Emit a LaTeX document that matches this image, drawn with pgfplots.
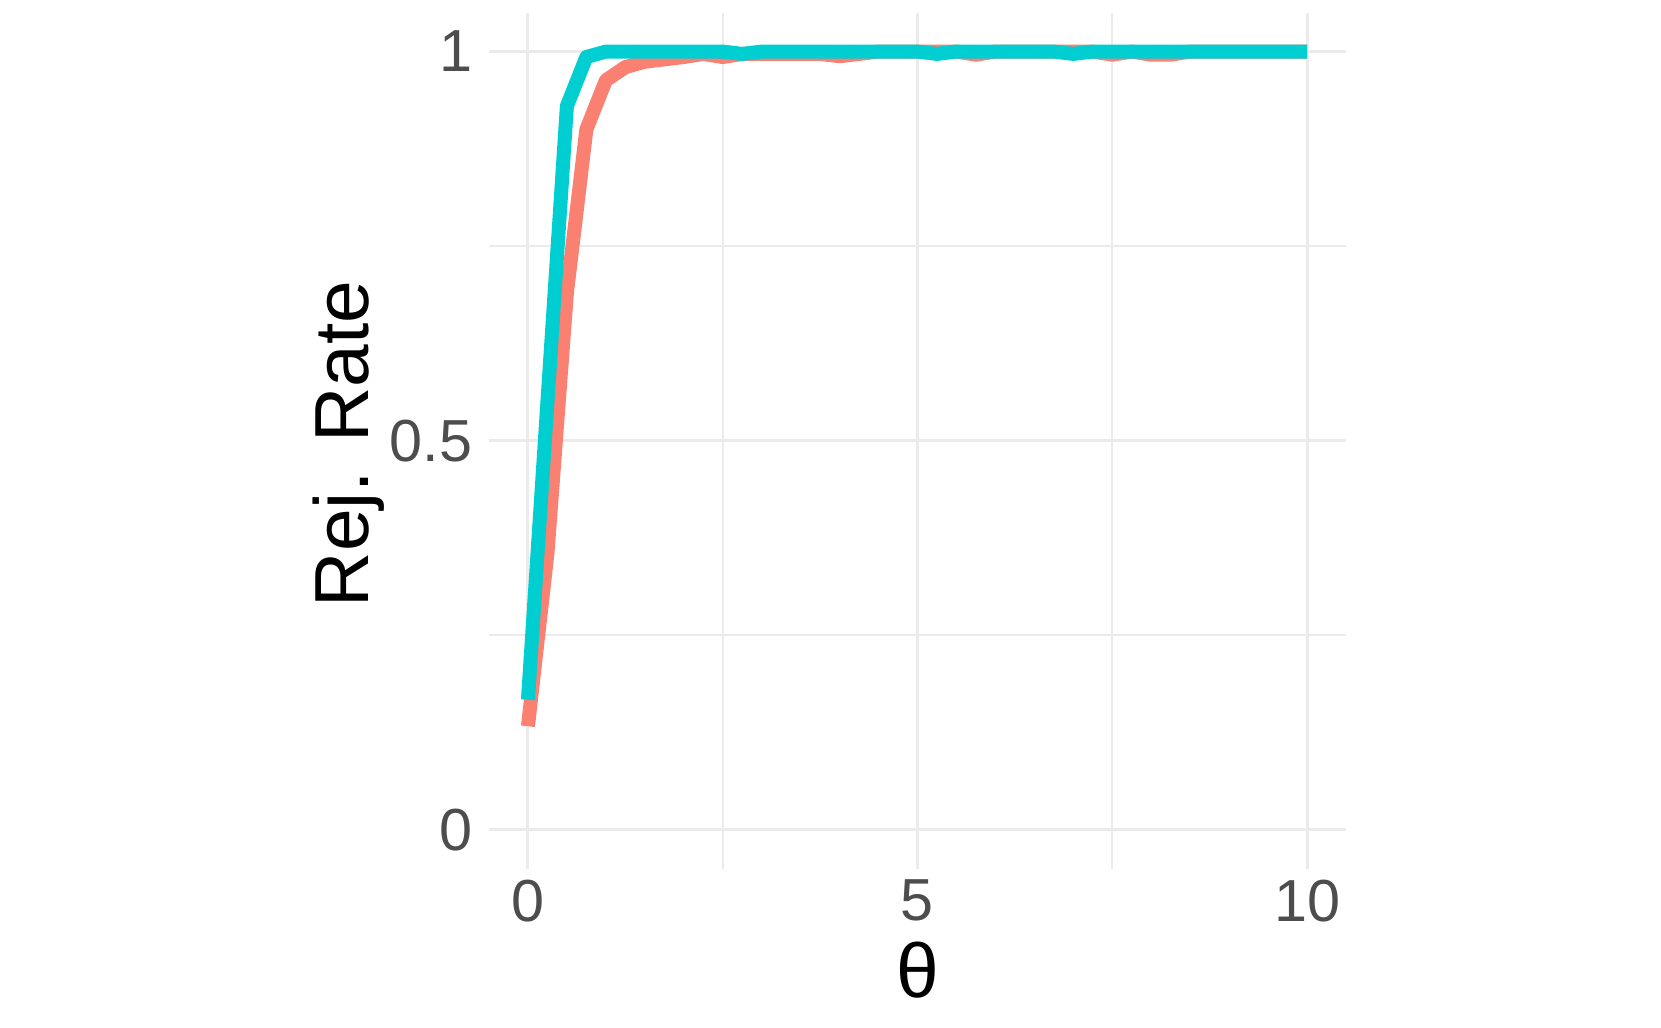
\documentclass[border=0pt]{standalone}
\usepackage{pgfplots}
\pgfplotsset{compat=1.18}
\usepackage{fontspec}
\setmainfont{Liberation Sans}
\definecolor{redline}{HTML}{FA8072}
\definecolor{cyanline}{HTML}{00CED1}
\definecolor{gridc}{HTML}{EBEBEB}
\definecolor{tickc}{HTML}{4D4D4D}
\begin{document}
\begin{tikzpicture}
\path[use as bounding box] (-146.7pt,-47.5pt) rectangle (351.6pt,260.6pt);
\begin{axis}[
  at={(0,0)}, anchor=south west,
  scale only axis, width=257.1pt, height=256.8pt,
  xmin=-0.5, xmax=10.5, ymin=-0.05, ymax=1.05,
  xtick={0,5,10}, xticklabels={0,5,10},
  ytick={0,0.5,1}, yticklabels={0,0.5,1},
  minor xtick={2.5,7.5}, minor ytick={0.25,0.75},
  grid=both,
  major grid style={gridc, line width=0.9pt},
  minor grid style={gridc, line width=0.5pt},
  axis line style={draw=none},
  major tick length=0pt, minor tick length=0pt,
  tick label style={font=\fontsize{17.8}{20}\selectfont, text=tickc},
  yticklabel style={anchor=east, inner sep=0pt, xshift=-4.8pt},
  xticklabel style={anchor=north, inner sep=0pt, yshift=-3.1pt},
  xlabel={θ}, ylabel={Rej. Rate},
  every axis x label/.style={at={(axis description cs:0.5,0)}, anchor=center, yshift=-30.5pt, font=\fontsize{23}{27}\selectfont},
  every axis y label/.style={at={(axis description cs:0,0.5)}, xshift=-42pt, yshift=-1pt, rotate=90, anchor=center, font=\fontsize{23}{27}\selectfont},
  line join=round,
]
\addplot[redline, line width=4.2pt, no markers] coordinates {
(0,0.133) (0.25,0.355) (0.5,0.69) (0.75,0.90) (1,0.963) (1.25,0.98) (1.5,0.987)
(1.75,0.99) (2,0.993) (2.25,0.997) (2.5,0.993) (2.75,0.997) (3,0.997) (3.25,0.997)
(3.5,0.997) (3.75,0.997) (4,0.994) (4.25,0.997) (4.5,1) (4.75,1) (5,1) (5.25,1)
(5.5,1) (5.75,0.996) (6,1) (6.25,1) (6.5,1) (6.75,1) (7,1) (7.25,1) (7.5,0.996)
(7.75,1) (8,0.996) (8.25,0.996) (8.5,1) (8.75,1) (9,1) (9.25,1) (9.5,1) (9.75,1) (10,1)
};
\addplot[cyanline, line width=4.2pt, no markers] coordinates {
(0,0.167) (0.25,0.55) (0.5,0.93) (0.75,0.993) (1,1) (1.25,1) (1.5,1)
(1.75,1) (2,1) (2.25,1) (2.5,1) (2.75,0.997) (3,1) (3.25,1)
(3.5,1) (3.75,1) (4,1) (4.25,1) (4.5,1) (4.75,1) (5,1) (5.25,0.997)
(5.5,1) (5.75,1) (6,1) (6.25,1) (6.5,1) (6.75,1) (7,0.997) (7.25,1) (7.5,1)
(7.75,1) (8,1) (8.25,1) (8.5,1) (8.75,1) (9,1) (9.25,1) (9.5,1) (9.75,1) (10,1)
};
\end{axis}
\end{tikzpicture}
\end{document}
